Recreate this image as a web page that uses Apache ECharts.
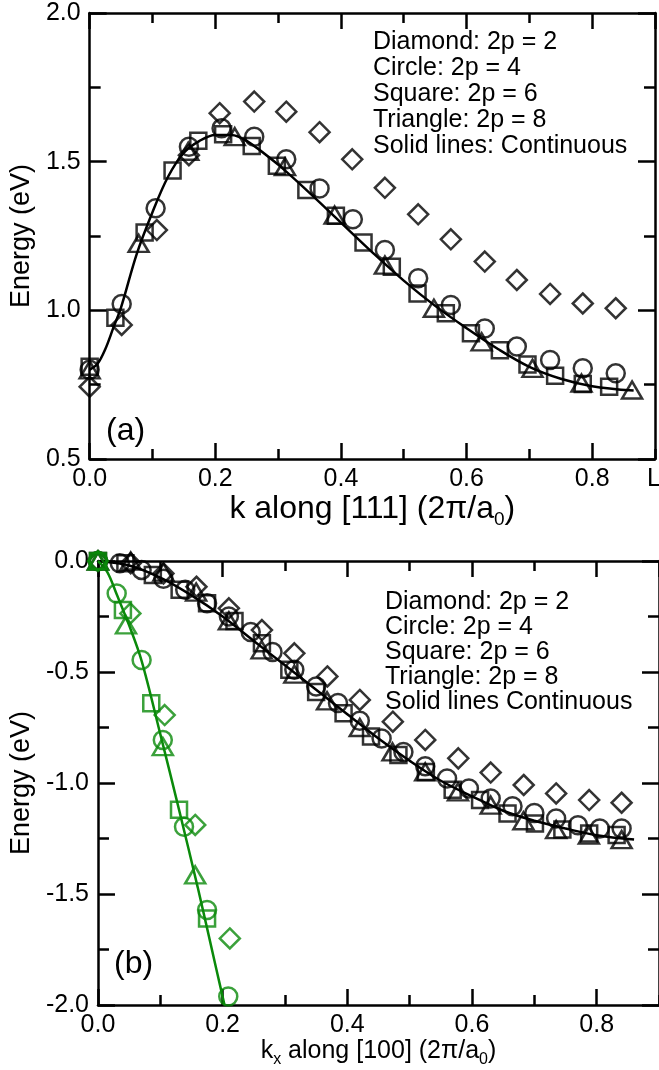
<!DOCTYPE html>
<html>
<head>
<meta charset="utf-8">
<script src="https://cdn.jsdelivr.net/npm/echarts@6/dist/echarts.min.js"></script>
<style>html,body{margin:0;padding:0;background:#fff}#chart{width:659px;height:1070px}</style>
</head>
<body>
<div id="chart"></div>
<script>
// Two stacked band-energy panels: (a) along [111], (b) along [100].
const FONT = 'Liberation Sans';
const GREEN = '#0a8a0a';
const X_MAX = 0.9;

// ---- panel (a): k along [111] ----
const aLineK = [0, 0.0125, 0.025, 0.0375, 0.05, 0.075, 0.1, 0.125, 0.15, 0.175, 0.2, 0.225, 0.25, 0.3, 0.35, 0.4, 0.45, 0.5, 0.55, 0.6, 0.65, 0.7, 0.75, 0.8, 0.866];
const aLineE = [0.80, 0.82, 0.87, 0.94, 1.01, 1.19, 1.33, 1.45, 1.53, 1.57, 1.59, 1.59, 1.57, 1.49, 1.395, 1.295, 1.195, 1.10, 1.015, 0.94, 0.87, 0.81, 0.77, 0.745, 0.73];

const aDiamondK = [0, 0.051, 0.107, 0.158, 0.207, 0.262, 0.313, 0.366, 0.418, 0.470, 0.523, 0.575, 0.629, 0.680, 0.733, 0.785, 0.8375];
const aDiamondE = [0.743, 0.951, 1.27, 1.522, 1.663, 1.702, 1.668, 1.599, 1.508, 1.412, 1.323, 1.239, 1.164, 1.102, 1.055, 1.023, 1.007];
const aCircleK = [0, 0.051, 0.105, 0.158, 0.21, 0.262, 0.313, 0.366, 0.419, 0.470, 0.523, 0.575, 0.629, 0.680, 0.733, 0.785, 0.8375];
const aCircleE = [0.80, 1.021, 1.343, 1.55, 1.612, 1.584, 1.508, 1.41, 1.306, 1.203, 1.108, 1.018, 0.939, 0.878, 0.833, 0.805, 0.788];
const aSquareK = [0, 0.041, 0.0875, 0.132, 0.173, 0.2125, 0.258, 0.298, 0.345, 0.392, 0.436, 0.481, 0.522, 0.567, 0.607, 0.653, 0.697, 0.741, 0.785, 0.827];
const aSquareE = [0.81, 0.975, 1.262, 1.47, 1.57, 1.592, 1.553, 1.486, 1.405, 1.318, 1.228, 1.147, 1.057, 0.99, 0.923, 0.866, 0.818, 0.78, 0.752, 0.743];
const aTriangleK = [0, 0.078, 0.157, 0.231, 0.311, 0.39, 0.470, 0.548, 0.624, 0.705, 0.783, 0.8635];
const aTriangleE = [0.80, 1.225, 1.535, 1.584, 1.483, 1.32, 1.152, 1.007, 0.894, 0.805, 0.755, 0.732];

// ---- panel (b): kx along [100] ----
const bLineK = [0, 0.05, 0.1, 0.15, 0.2, 0.25, 0.3, 0.35, 0.4, 0.45, 0.5, 0.55, 0.6, 0.65, 0.7, 0.75, 0.8, 0.86];
const bLineE = [0, -0.02, -0.075, -0.155, -0.25, -0.36, -0.47, -0.58, -0.69, -0.80, -0.90, -0.99, -1.06, -1.125, -1.17, -1.205, -1.235, -1.255];
const bGreenLineK = [0, 0.015, 0.03, 0.05, 0.07, 0.1, 0.13, 0.16, 0.19, 0.203];
const bGreenLineE = [0, -0.05, -0.15, -0.29, -0.45, -0.78, -1.12, -1.47, -1.84, -2.0];

const bDiamondK = [0, 0.0525, 0.105, 0.158, 0.21, 0.263, 0.315, 0.368, 0.42, 0.473, 0.525, 0.578, 0.63, 0.683, 0.735, 0.788, 0.84];
const bDiamondE = [0, -0.01, -0.056, -0.116, -0.213, -0.311, -0.416, -0.52, -0.626, -0.724, -0.806, -0.889, -0.953, -1.009, -1.047, -1.077, -1.089];
const bCircleK = [0, 0.035, 0.07, 0.105, 0.14, 0.175, 0.21, 0.245, 0.28, 0.315, 0.35, 0.385, 0.42, 0.455, 0.49, 0.525, 0.56, 0.595, 0.63, 0.665, 0.70, 0.735, 0.77, 0.805, 0.84];
const bCircleE = [0, -0.01, -0.04, -0.08, -0.13, -0.19, -0.25, -0.32, -0.41, -0.49, -0.565, -0.64, -0.72, -0.80, -0.86, -0.925, -0.98, -1.025, -1.07, -1.105, -1.135, -1.16, -1.19, -1.205, -1.205];
const bSquareK = [0, 0.044, 0.088, 0.131, 0.175, 0.219, 0.263, 0.307, 0.35, 0.394, 0.438, 0.482, 0.526, 0.569, 0.613, 0.657, 0.701, 0.745, 0.788, 0.832];
const bSquareE = [0, -0.01, -0.063, -0.13, -0.19, -0.27, -0.37, -0.49, -0.59, -0.686, -0.79, -0.874, -0.95, -1.03, -1.077, -1.137, -1.182, -1.21, -1.227, -1.234];
const bTriangleK = [0, 0.0525, 0.105, 0.1575, 0.21, 0.2625, 0.315, 0.3675, 0.42, 0.4725, 0.525, 0.5775, 0.63, 0.6825, 0.735, 0.7875, 0.84];
const bTriangleE = [0, 0.0, -0.05, -0.14, -0.27, -0.40, -0.51, -0.63, -0.75, -0.86, -0.95, -1.04, -1.10, -1.17, -1.21, -1.235, -1.255];

const bGreenDiamondK = [0, 0.052, 0.107, 0.156, 0.2115];
const bGreenDiamondE = [0, -0.236, -0.694, -1.189, -1.70];
const bGreenCircleK = [0, 0.030, 0.070, 0.104, 0.138, 0.175, 0.209];
const bGreenCircleE = [0, -0.146, -0.446, -0.806, -1.197, -1.572, -1.962];
const bGreenSquareK = [0, 0.040, 0.0855, 0.130, 0.175];
const bGreenSquareE = [0, -0.221, -0.641, -1.12, -1.61];
const bGreenTriangleK = [0, 0.045, 0.104, 0.156];
const bGreenTriangleE = [0, -0.288, -0.836, -1.414];

const legendA = ['Diamond: 2p = 2', 'Circle: 2p = 4', 'Square: 2p = 6', 'Triangle: 2p = 8', 'Solid lines: Continuous'];
const legendB = ['Diamond: 2p = 2', 'Circle: 2p = 4', 'Square: 2p = 6', 'Triangle: 2p = 8', 'Solid lines Continuous'];

const pts = (ks, es) => ks.map((k, i) => [k, es[i]]);
const BLACK_LINE = { color: '#000', width: 2.5 };
const fmt1 = (v) => v.toFixed(1);

// x axes: major (0.2, labelled) + minor (0.1) on bottom, mirrored on top
function xAxes(grid, name, nameGap, rich) {
  const major = (pos, extra) => ({
    type: 'value', gridIndex: grid, position: pos, min: 0, max: X_MAX, interval: 0.2,
    axisLine: { show: true, onZero: false, lineStyle: BLACK_LINE },
    axisTick: { inside: true, length: 16, lineStyle: BLACK_LINE },
    axisLabel: { show: false }, splitLine: { show: false }, ...extra,
  });
  const minor = (pos) => ({
    type: 'value', gridIndex: grid, position: pos, min: 0, max: X_MAX, interval: 0.1,
    axisLine: { show: false, onZero: false },
    axisTick: { inside: true, length: 10, lineStyle: BLACK_LINE },
    axisLabel: { show: false }, splitLine: { show: false },
  });
  return [
    major('bottom', {
      axisLabel: { show: true, showMaxLabel: false, margin: 8, fontSize: 25, fontFamily: FONT, color: '#000', formatter: fmt1 },
      name, nameLocation: 'middle', nameGap, nameTextStyle: { color: '#000', rich },
    }),
    minor('bottom'), major('top'), minor('top'),
  ];
}

function yAxes(grid, min, max) {
  const common = {
    type: 'value', gridIndex: grid, min, max, interval: 0.5,
    axisLine: { show: true, onZero: false, lineStyle: BLACK_LINE },
    axisTick: { inside: true, length: 17, lineStyle: BLACK_LINE },
    minorTick: { show: true, splitNumber: 2, length: 11, lineStyle: BLACK_LINE },
    splitLine: { show: false },
  };
  return [
    { ...common, position: 'left',
      axisLabel: { margin: 9, fontSize: 25, fontFamily: FONT, color: '#000', formatter: fmt1 },
      name: 'Energy (eV)', nameLocation: 'middle', nameGap: 49,
      nameTextStyle: { fontSize: 27, fontFamily: FONT, color: '#000' } },
    { ...common, position: 'right', axisLabel: { show: false } },
  ];
}

const curve = (ks, es, color, xi, yi) => ({
  type: 'line', xAxisIndex: xi, yAxisIndex: yi, data: pts(ks, es), smooth: 0.35,
  symbol: 'none', lineStyle: { color, width: 2.5 }, z: 2, silent: true,
});
const marks = (symbol, size, ks, es, color, xi, yi) => ({
  type: 'scatter', xAxisIndex: xi, yAxisIndex: yi, data: pts(ks, es), symbol, symbolSize: size,
  itemStyle: { color: 'rgba(0,0,0,0)', borderColor: color, borderWidth: 2.5 }, clip: false, z: 3, silent: true,
});

const richA = {
  a: { fontSize: 32, fontFamily: FONT, lineHeight: 40 },
  s: { fontSize: 19, fontFamily: FONT, lineHeight: 19, verticalAlign: 'bottom' },
};
const richB = {
  a: { fontSize: 25, fontFamily: FONT, lineHeight: 32 },
  s: { fontSize: 16, fontFamily: FONT, lineHeight: 16, verticalAlign: 'bottom' },
};

const legendText = (lines, left, top, step) => lines.map((t, i) => ({
  type: 'text', left, top: top + i * step, silent: true,
  style: { text: t, font: `25px "${FONT}"`, fill: '#000' },
}));

const chart = echarts.init(document.getElementById('chart'), null, { renderer: 'canvas' });
chart.setOption({
  animation: false,
  backgroundColor: '#fff',
  grid: [
    { left: 79, top: 13, width: 576, height: 446 },
    { left: 89, top: 561, width: 571.5, height: 444 },
  ],
  xAxis: [
    ...xAxes(0, '{a|k along [111] (2π/a}{s|0}{a|)}', 20, richA),
    ...xAxes(1, '{a|k}{s|x}{a| along [100] (2π/a}{s|0}{a|)}', 30, richB),
  ],
  yAxis: [...yAxes(0, 0.5, 2.0), ...yAxes(1, -2.0, 0)],
  series: [
    curve(aLineK, aLineE, '#000', 0, 0),
    marks('diamond', 20, aDiamondK, aDiamondE, '#000', 0, 0),
    marks('circle', 18, aCircleK, aCircleE, '#000', 0, 0),
    marks('rect', 16, aSquareK, aSquareE, '#000', 0, 0),
    marks('triangle', [20, 17], aTriangleK, aTriangleE, '#000', 0, 0),

    curve(bLineK, bLineE, '#000', 4, 2),
    marks('diamond', 20, bDiamondK, bDiamondE, '#000', 4, 2),
    marks('circle', 18, bCircleK, bCircleE, '#000', 4, 2),
    marks('rect', 16, bSquareK, bSquareE, '#000', 4, 2),
    marks('triangle', [20, 17], bTriangleK, bTriangleE, '#000', 4, 2),

    curve(bGreenLineK, bGreenLineE, GREEN, 4, 2),
    marks('diamond', 20, bGreenDiamondK, bGreenDiamondE, GREEN, 4, 2),
    marks('circle', 18, bGreenCircleK, bGreenCircleE, GREEN, 4, 2),
    marks('rect', 16, bGreenSquareK, bGreenSquareE, GREEN, 4, 2),
    marks('triangle', [20, 17], bGreenTriangleK, bGreenTriangleE, GREEN, 4, 2),
  ],
  graphic: [
    ...legendText(legendA, 373, 30, 26),
    ...legendText(legendB, 385, 590, 25),
    { type: 'text', left: 106, top: 415, silent: true, style: { text: '(a)', font: `32px "${FONT}"`, fill: '#000' } },
    { type: 'text', left: 114, top: 948, silent: true, style: { text: '(b)', font: `32px "${FONT}"`, fill: '#000' } },
    { type: 'text', left: 647, top: 467, silent: true, style: { text: 'L', font: `25px "${FONT}"`, fill: '#000' } },
  ],
});
</script>
</body>
</html>
